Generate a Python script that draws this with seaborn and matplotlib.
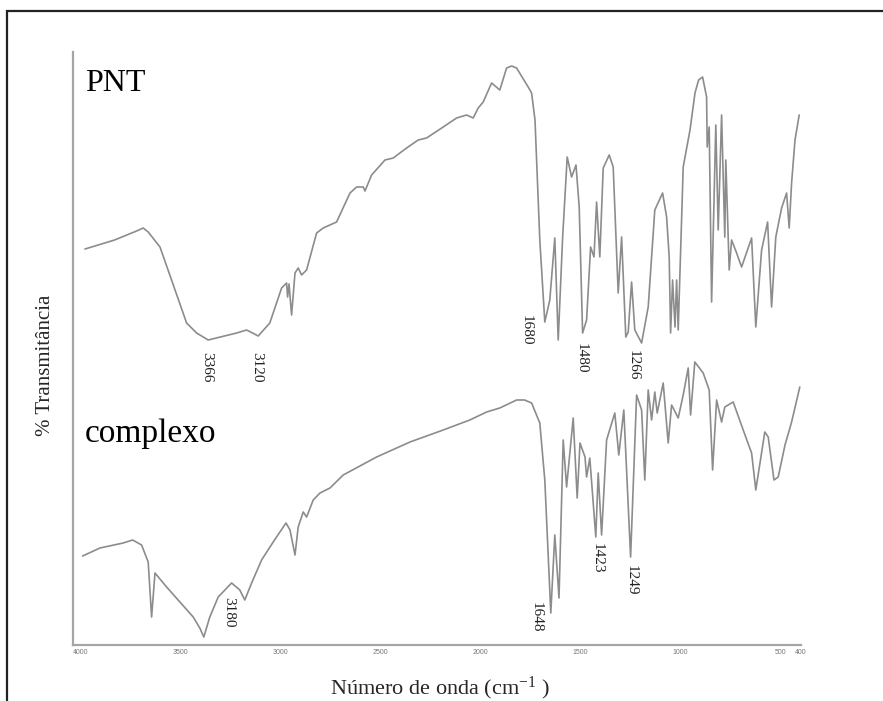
import numpy as np
import pandas as pd
import seaborn as sns
import matplotlib.pyplot as plt
from matplotlib.patches import Rectangle

# IR spectra (wavenumber in cm-1, relative transmittance)
pnt_wn = [3978, 3830, 3720, 3687, 3662, 3603, 3470, 3420, 3362, 3220, 3170, 3140, 3112, 3054, 2995,
          2970, 2965, 2958, 2945, 2928, 2912, 2895, 2870, 2820, 2787, 2720, 2653, 2620, 2587,
          2578, 2545, 2478, 2437, 2370, 2312, 2270, 2187, 2120, 2070, 2037, 2012, 1987, 1945,
          1904, 1870, 1845, 1820, 1762, 1745, 1728, 1704, 1679, 1654, 1629, 1612, 1590, 1567, 1545,
          1523, 1507, 1490, 1470, 1450, 1433, 1420, 1404, 1387, 1357, 1337, 1312, 1295, 1274,
          1262, 1245, 1229, 1195, 1162, 1129, 1090, 1070, 1057, 1050, 1040, 1028, 1020, 1012,
          987, 953, 928, 910, 890, 870, 867, 857, 845, 824, 812, 795, 779, 774, 757, 745, 720, 695, 645,
          624, 595, 565, 545, 524, 495, 470, 457, 445, 428, 407]
pnt_t = [396, 405, 414, 417, 413, 398, 322, 312, 305, 312, 315, 312, 309, 322, 357,
         362, 348, 361, 330, 372, 377, 370, 375, 412, 417, 423, 452, 458, 458,
         454, 470, 485, 487, 497, 505, 507, 518, 527, 530, 527, 537, 543, 562,
         555, 577, 579, 577, 558, 552, 525, 405, 323, 345, 407, 305, 407, 488, 468,
         480, 438, 312, 325, 398, 388, 443, 388, 477, 490, 478, 352, 408, 308,
         313, 363, 315, 302, 338, 435, 452, 428, 388, 312, 365, 318, 365, 315,
         478, 515, 552, 565, 568, 548, 498, 518, 343, 520, 415, 530, 408, 485, 375, 405, 392, 378, 407,
         318, 395, 423, 338, 408, 437, 452, 417, 462, 505, 530]

cpx_wn = [3990, 3903, 3787, 3740, 3695, 3662, 3645, 3628, 3570, 3437, 3404, 3384, 3354, 3312,
          3245, 3204, 3179, 3145, 3095, 3037, 2973, 2953, 2928, 2912, 2887, 2870, 2837, 2803,
          2753, 2687, 2520, 2353, 2187, 2054, 1970, 1904, 1820, 1780, 1745, 1704, 1679, 1649, 1629,
          1608, 1587, 1570, 1537, 1517, 1503, 1478, 1470, 1454, 1424, 1412, 1395, 1370, 1329,
          1309, 1284, 1250, 1220, 1195, 1179, 1162, 1145, 1129, 1117, 1087, 1062, 1045, 1012,
          987, 962, 950, 929, 887, 857, 840, 820, 795, 779, 737, 687, 645, 624, 579, 562, 533,
          512, 478, 445, 404]
cpx_t = [89, 97, 102, 105, 100, 83, 28, 72, 58, 28, 17, 8, 28, 48,
         62, 55, 45, 62, 85, 103, 122, 115, 90, 118, 133, 128, 145, 152,
         157, 170, 188, 203, 215, 225, 233, 237, 245, 245, 242, 222, 165, 32, 110,
         47, 205, 158, 227, 147, 202, 188, 168, 187, 108, 172, 110, 205, 232,
         190, 235, 88, 250, 235, 165, 255, 225, 253, 232, 262, 202, 240, 227,
         250, 277, 230, 283, 272, 255, 175, 245, 223, 238, 243, 215, 192, 155, 213, 208, 165,
         168, 200, 223, 258]

# peak labels: text, x position, top of text
pnt_peaks = [("3366", 3370, 293), ("3120", 3120, 293), ("1680", 1770, 330),
             ("1480", 1495, 302), ("1266", 1235, 295)]
cpx_peaks = [("3180", 3262, 48), ("1648", 1724, 43), ("1423", 1415, 102), ("1249", 1245, 80)]

xticks = [4000, 3500, 3000, 2500, 2000, 1500, 1000, 500, 400]

sns.set_style("white")
plt.rcParams['font.family'] = ['Liberation Serif', 'DejaVu Serif']

fig = plt.figure(figsize=(8.83, 7.01), dpi=100)
ax = fig.add_axes([73 / 883, 1 - 645 / 701, (801 - 73) / 883, (645 - 52) / 701])

df_pnt = pd.DataFrame({"wn": pnt_wn, "t": pnt_t})
df_cpx = pd.DataFrame({"wn": cpx_wn, "t": cpx_t})
for df in [df_pnt, df_cpx]:
    sns.lineplot(data=df, x="wn", y="t", ax=ax, color="#8c8c8c", lw=1.2, sort=False,
                 estimator=None, solid_joinstyle="round")

ax.set_xlim(4038, 398)
ax.set_ylim(0, 593)
ax.set_xticks(xticks)
ax.set_xticklabels([str(v) for v in xticks], fontsize=5, color="#777777", family="Liberation Sans")
ax.set_yticks([])
ax.tick_params(axis="x", direction="in", length=2, width=0.8, color="#999999", pad=3)
ax.set_xlabel("")
ax.set_ylabel("")

for side in ["top", "right"]:
    ax.spines[side].set_visible(False)
for side in ["left", "bottom"]:
    ax.spines[side].set_color("#a5a5a5")
    ax.spines[side].set_linewidth(1.6)

ax.text(3978, 554, "PNT", fontsize=23, va="baseline", ha="left", color="black")
ax.text(3978, 203, "complexo", fontsize=24, va="baseline", ha="left", color="black")

for lab, x, y in pnt_peaks + cpx_peaks:
    ax.text(x, y, lab, rotation=270, fontsize=11, ha="center", va="top", color="#222222")

fig.text(440 / 883, 1 - 688 / 701, "Número de onda (cm$\\mathregular{^{-1}}$ )", fontsize=16,
         ha="center", va="center")
fig.text(46 / 883, 1 - 365 / 701, "% Transmitância", fontsize=15, rotation=90,
         ha="center", va="center")

# outer frame (open at right and bottom in the original)
fig.add_artist(Rectangle((7 / 883, -0.5), 2, 0.5 + (1 - 11 / 701), transform=fig.transFigure,
                         fill=False, edgecolor="#222222", lw=1.6))

fig.savefig("out.png", dpi=100)
